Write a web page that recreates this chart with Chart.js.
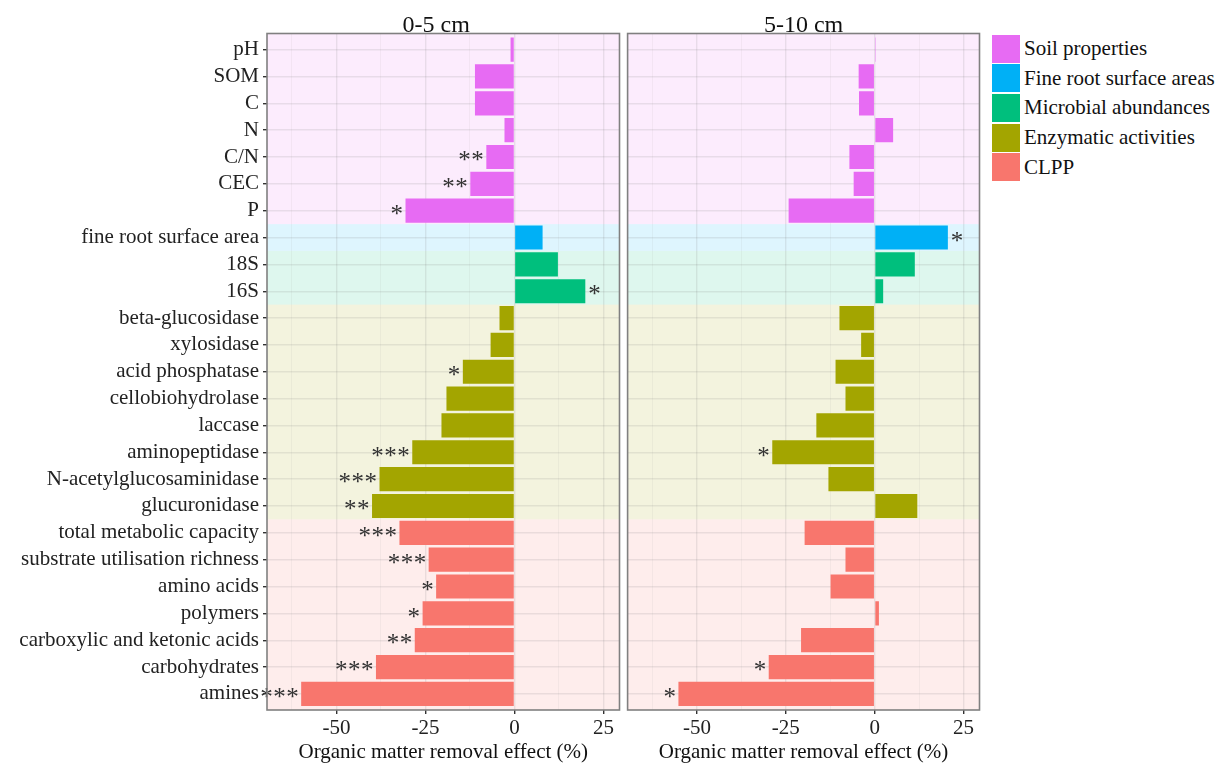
<!DOCTYPE html>
<html><head><meta charset="utf-8">
<script src="https://cdn.jsdelivr.net/npm/chart.js@4.4.1/dist/chart.umd.min.js"></script>
<style>
html,body{margin:0;padding:0;background:#fff;width:1232px;height:767px;overflow:hidden;}
#c0{position:absolute;left:0;top:0;}
#c1{position:absolute;left:622px;top:0;}
#legend{position:absolute;left:992px;top:34px;font-family:'Liberation Serif','Times New Roman',serif;font-size:21px;color:#111;}
.li{display:flex;align-items:center;height:29.6px;}
.sw{width:28px;height:28px;margin-right:4px;flex:none;}
</style></head><body>
<canvas id="c0" width="622" height="767"></canvas>
<canvas id="c1" width="360" height="767"></canvas>
<div id="legend"></div>
<script>
const categories = ['pH','SOM','C','N','C/N','CEC','P','fine root surface area','18S','16S',
  'beta-glucosidase','xylosidase','acid phosphatase','cellobiohydrolase','laccase','aminopeptidase',
  'N-acetylglucosaminidase','glucuronidase','total metabolic capacity','substrate utilisation richness',
  'amino acids','polymers','carboxylic and ketonic acids','carbohydrates','amines'];
const categoryGroup = [0,0,0,0,0,0,0,1,2,2,3,3,3,3,3,3,3,3,4,4,4,4,4,4,4];
const groupNames = ['Soil properties','Fine root surface areas','Microbial abundances','Enzymatic activities','CLPP'];
const groupColors = ['#E76BF3','#00B0F6','#00BF7D','#A3A500','#F8766D'];
const depthTitles = ['0-5 cm','5-10 cm'];
const effect0to5 = [-1.1,-11.1,-11.1,-2.8,-7.9,-12.4,-30.6,7.9,12.2,19.9,
  -4.2,-6.7,-14.5,-19.1,-20.5,-28.7,-37.9,-40.0,-32.3,-24.1,-22.0,-25.8,-28.0,-38.9,-59.9];
const effect5to10 = [0.3,-4.5,-4.4,5.2,-7.1,-5.9,-24.2,20.6,11.3,2.4,
  -9.9,-3.8,-11.0,-8.2,-16.4,-28.8,-13.0,12.0,-19.7,-8.2,-12.4,1.2,-20.7,-29.8,-55.2];
const signif0to5 = ['','','','','**','**','*','','','*','','','*','','','***','***','**',
  '***','***','*','*','**','***','***'];
const signif5to10 = ['','','','','','','','*','','','','','','','','*','','',
  '','','','','','*','*'];
const xTickLabels = [-50,-25,0,25];
const xTitle = 'Organic matter removal effect (%)';

const SERIF = "'Liberation Serif','Times New Roman',serif";
Chart.defaults.font.family = SERIF;

function tint(hex, a){
  const r=parseInt(hex.slice(1,3),16), g=parseInt(hex.slice(3,5),16), b=parseInt(hex.slice(5,7),16);
  return `rgba(${r},${g},${b},${a})`;
}

const bandPlugin = {
  id:'bands',
  beforeDraw(chart){
    const a = chart.chartArea, y = chart.scales.y, ctx = chart.ctx;
    ctx.save();
    groupNames.forEach((n,g)=>{
      const idx = categoryGroup.map((v,i)=>v===g?i:-1).filter(i=>i>=0);
      const lo = g===0 ? y.min : Math.min(...idx)-0.5;
      const hi = g===groupNames.length-1 ? y.max : Math.max(...idx)+0.5;
      const p1 = y.getPixelForValue(lo), p2 = y.getPixelForValue(hi);
      ctx.fillStyle = tint(groupColors[g], 0.13);
      ctx.fillRect(a.left, Math.min(p1,p2), a.right-a.left, Math.abs(p2-p1));
    });
    ctx.restore();
  }
};

const starPlugin = {
  id:'sigStars',
  afterDatasetsDraw(chart, args, opts){
    const ctx = chart.ctx; ctx.save();
    const fs = 25;
    ctx.font = fs + 'px ' + SERIF;
    ctx.fillStyle = '#333';
    ctx.textBaseline = 'alphabetic';
    try { ctx.letterSpacing = '0.5px'; } catch(e) {}
    chart.data.datasets.forEach((ds, di)=>{
      const meta = chart.getDatasetMeta(di);
      meta.data.forEach((bar, j)=>{
        const d = ds.data[j]; const s = opts.labels[d.y];
        if(!s) return;
        const neg = d.x < 0;
        ctx.textAlign = neg ? 'right' : 'left';
        ctx.fillText(s, bar.x + (neg ? -2 : 3), bar.y + 0.45*fs);
      });
    });
    ctx.restore();
  }
};

const framePlugin = {
  id:'panelFrame',
  afterDraw(chart, args, opts){
    const a = chart.chartArea, ctx = chart.ctx;
    ctx.save();
    ctx.strokeStyle = '#808080'; ctx.lineWidth = 1.6;
    ctx.strokeRect(a.left, a.top, a.right-a.left, a.bottom-a.top);
    ctx.font = '24px ' + SERIF; ctx.fillStyle = '#111';
    ctx.textAlign = 'center'; ctx.textBaseline = 'alphabetic';
    ctx.fillText(opts.text, (a.left+a.right)/2 + opts.dx, 31.5);
    ctx.restore();
  }
};

function makeChart(id, values, signif, title, showLabels, yWidth, dx){
  const datasets = groupNames.map((name,g)=>({
    label: name,
    data: categories.map((c,i)=>({x: values[i], y: i})).filter(d=>categoryGroup[d.y]===g),
    backgroundColor: groupColors[g],
    borderWidth: 0,
    categoryPercentage: 1,
    barPercentage: 0.9,
    grouped: false
  }));
  const isMajor = v => xTickLabels.includes(v);
  return new Chart(document.getElementById(id), {
    type:'bar',
    data:{datasets},
    plugins:[bandPlugin, starPlugin, framePlugin],
    options:{
      indexAxis:'y', responsive:false, animation:false, devicePixelRatio:1,
      layout:{padding:{top:33.5, right:2.5, bottom:0, left:0}},
      plugins:{
        legend:{display:false}, tooltip:{enabled:false},
        sigStars:{labels: signif},
        panelFrame:{text: title, dx: dx}
      },
      scales:{
        x:{
          type:'linear', min:-69.5, max:29.5, offset:false,
          ticks:{stepSize:12.5, includeBounds:false, autoSkip:false, maxRotation:0, padding:2,
            color:'#222', font:{size:21},
            callback: v => isMajor(v) ? String(v) : ''},
          grid:{
            offset:false,
            color: c => isMajor(c.tick.value) ? 'rgba(110,110,110,0.14)' : 'rgba(110,110,110,0.08)',
            lineWidth: c => isMajor(c.tick.value) ? 1.4 : 0.9,
            tickLength:4,
            tickColor: c => isMajor(c.tick.value) ? '#333' : 'rgba(0,0,0,0)'
          },
          border:{display:false},
          title:{display:true, text:xTitle, color:'#111', font:{size:21}, padding:{top:0, bottom:2}},
          afterFit: s => { s.height = 57; }
        },
        y:{
          type:'linear', min:-0.6, max:24.6, reverse:true, offset:false,
          ticks:{stepSize:1, includeBounds:false, autoSkip:false, display:showLabels, padding:4,
            color:'#222', font:{size:21},
            callback: v => categories[v] ?? null},
          grid:{offset:false, color:'rgba(110,110,110,0.14)', lineWidth:1.4, drawTicks:showLabels, tickLength:4, tickColor:'#333'},
          border:{display:false},
          afterFit: s => { s.width = yWidth; }
        }
      }
    }
  });
}

makeChart('c0', effect0to5, signif0to5, depthTitles[0], true, 267, -7);
makeChart('c1', effect5to10, signif5to10, depthTitles[1], false, 5.6, 0);

const lg = document.getElementById('legend');
groupNames.forEach((n,g)=>{
  const row = document.createElement('div'); row.className='li';
  const sw = document.createElement('div'); sw.className='sw'; sw.style.background = groupColors[g];
  const tx = document.createElement('span'); tx.textContent = n;
  row.appendChild(sw); row.appendChild(tx); lg.appendChild(row);
});
</script>
</body></html>
